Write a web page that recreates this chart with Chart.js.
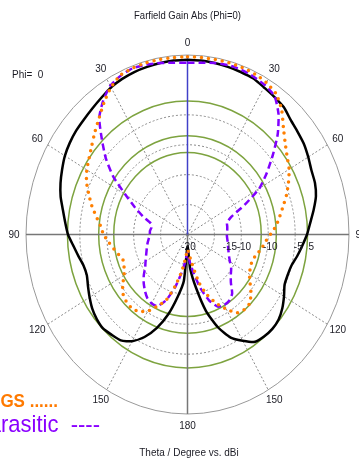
<!DOCTYPE html>
<html>
<head>
<meta charset="utf-8">
<script src="https://cdn.jsdelivr.net/npm/chart.js@4/dist/chart.umd.min.js"></script>
<style>
  html, body { margin: 0; padding: 0; background: #fff; }
  canvas { display: block; }
</style>
</head>
<body>
<canvas id="farfield" width="359" height="462"></canvas>
<script>
// theta in degrees, right half = phi 0, left half = phi 180
const theta = [0,5,10,15,20,25,30,35,40,45,50,55,60,65,70,75,80,85,90,
               95,100,105,110,115,120,125,130,135,140,145,150,155,160,165,170,175,180];

// gain in dBi
const totalRight = [4.2,4.2,4.1,4.0,3.9,3.8,3.4,3.1,2.8,2.1,1.7,1.4,0.9,0.4,0.2,-0.3,-1.2,-2.1,-2.8,
                    -3.6,-4.3,-5.0,-5.2,-5.1,-4.3,-3.5,-2.9,-2.7,-2.8,-3.1,-4.5,-6.0,-8.5,-11.8,-16.0,-19.3,-23.0];
const totalLeft  = [4.2,4.2,4.1,4.0,3.9,3.7,3.4,2.9,2.5,2.2,2.0,1.7,1.3,0.7,0.1,-0.6,-1.5,-2.2,-2.8,
                    -3.7,-4.4,-5.0,-5.1,-4.6,-4.0,-3.4,-3.0,-2.8,-3.1,-3.4,-4.4,-6.1,-8.4,-11.2,-14.4,-17.2,-23.0];
const gsRight    = [4.7,4.7,4.7,4.7,4.7,4.6,4.3,3.7,2.2,0.2,-1.3,-2.4,-3.2,-4.3,-5.4,-6.6,-7.6,-8.5,-9.6,
                    -10.5,-11.1,-11.8,-12.2,-12.1,-11.7,-10.8,-9.6,-8.7,-8.6,-9.0,-10.6,-12.3,-14.2,-16.6,-19.9,-21.7,-22.5];
const gsLeft     = [4.7,4.7,4.7,4.7,4.6,4.4,3.4,2.0,0.5,-0.7,-1.8,-2.7,-3.4,-4.3,-5.5,-6.6,-7.8,-8.8,-9.4,
                    -10.3,-11.1,-11.8,-12.3,-12.0,-11.4,-10.3,-9.4,-9.0,-8.9,-9.3,-10.2,-11.8,-13.3,-16.0,-18.7,-21.1,-22.5];
const parRight   = [3.7,3.8,4.1,4.3,4.3,4.1,3.8,3.2,1.3,-1.3,-4.3,-7.0,-9.6,-13.3,-16.3,-17.4,-17.5,-17.6,-17.7,
                    -17.6,-17.4,-17.2,-16.9,-16.5,-15.9,-15.1,-14.5,-13.6,-12.1,-11.5,-11.4,-11.7,-13.3,-15.7,-18.4,-20.5,-22.0];
const parLeft    = [3.7,3.8,4.1,4.4,4.6,4.3,3.7,2.3,0.5,-2.5,-5.2,-8.2,-11.7,-14.2,-16.2,-18.0,-18.2,-18.0,-18.0,
                    -17.8,-17.5,-17.2,-16.9,-16.5,-16.0,-15.4,-14.4,-13.5,-12.7,-12.0,-11.7,-11.8,-13.3,-15.7,-18.4,-20.5,-22.0];

// radial range (center .. outer circle), grid rings and markers
const rMin = -25, rMax = 5;
const dottedRings = [-20, -15, -10, -5];
const greenRings = [-11.3, -8.5, -2.7];
const spokeAngles = [30, 60, 120, 150];
const angleTicks = [0, 30, 60, 90, 120, 150, 180];
const ringTickLabels = ['-20', '-15', '-10', '-10', '-5', '5'];
const ringTickValues = [-25, -17.3, -14.7, -9.8, -4.6, -2.2];

function norm(db) { return (db - rMin) / (rMax - rMin); }

function cut(right, left) {
  const pts = [];
  theta.forEach((t, i) => {
    const r = norm(right[i]), a = t * Math.PI / 180;
    pts.push({x: r * Math.sin(a), y: r * Math.cos(a)});
  });
  for (let i = theta.length - 2; i >= 0; i--) {
    const r = norm(left[i]), a = theta[i] * Math.PI / 180;
    pts.push({x: -r * Math.sin(a), y: r * Math.cos(a)});
  }
  return pts;
}

// the source picture is stretched vertically, text included
const stretch = 1.115;
function tallText(ctx, txt, x, y) {
  ctx.save();
  ctx.translate(x, y);
  ctx.scale(1, stretch);
  ctx.fillText(txt, 0, 0);
  ctx.restore();
}

const polarGrid = {
  id: 'polarGrid',
  beforeDatasetsDraw(chart) {
    const {ctx} = chart;
    const sx = chart.scales.x, sy = chart.scales.y;
    const cx = sx.getPixelForValue(0), cy = sy.getPixelForValue(0);
    const ring = (v) => [sx.getPixelForValue(norm(v)) - cx, cy - sy.getPixelForValue(norm(v))];
    ctx.save();

    // dotted rings
    ctx.strokeStyle = '#8a8a8a';
    ctx.lineWidth = 1;
    ctx.setLineDash([2, 2]);
    dottedRings.forEach(v => {
      const [rx, ry] = ring(v);
      ctx.beginPath(); ctx.ellipse(cx, cy, rx, ry, 0, 0, Math.PI * 2); ctx.stroke();
    });
    // spokes
    spokeAngles.forEach(t => {
      const a = t * Math.PI / 180;
      [1, -1].forEach(s => {
        ctx.beginPath();
        ctx.moveTo(cx, cy);
        ctx.lineTo(sx.getPixelForValue(s * Math.sin(a)), sy.getPixelForValue(Math.cos(a)));
        ctx.stroke();
      });
    });
    ctx.setLineDash([]);

    // outer circle
    ctx.strokeStyle = '#999';
    ctx.lineWidth = 1;
    ctx.beginPath(); ctx.ellipse(cx, cy, sx.getPixelForValue(1) - cx, cy - sy.getPixelForValue(1), 0, 0, Math.PI * 2); ctx.stroke();

    // green marker rings
    ctx.strokeStyle = '#7da33f';
    ctx.lineWidth = 1.5;
    greenRings.forEach(v => {
      const [rx, ry] = ring(v);
      ctx.beginPath(); ctx.ellipse(cx, cy, rx, ry, 0, 0, Math.PI * 2); ctx.stroke();
    });

    // axes
    ctx.strokeStyle = '#777';
    ctx.lineWidth = 1.5;
    ctx.beginPath();
    ctx.moveTo(sx.getPixelForValue(-1), cy); ctx.lineTo(sx.getPixelForValue(1), cy);
    ctx.moveTo(cx, cy); ctx.lineTo(cx, sy.getPixelForValue(-1));
    ctx.stroke();
    ctx.strokeStyle = '#4040c8';
    ctx.beginPath();
    ctx.moveTo(cx, cy); ctx.lineTo(cx, sy.getPixelForValue(1));
    ctx.stroke();
    ctx.restore();
  },
  afterDraw(chart) {
    const {ctx} = chart;
    const sx = chart.scales.x, sy = chart.scales.y;
    const cx = sx.getPixelForValue(0), cy = sy.getPixelForValue(0);
    ctx.save();
    ctx.fillStyle = '#1b1b24';
    ctx.textAlign = 'center';
    ctx.textBaseline = 'middle';

    ctx.font = '9.5px "Liberation Sans", Arial, sans-serif';
    tallText(ctx, 'Farfield Gain Abs (Phi=0)', cx, 16);

    ctx.font = '10px "Liberation Sans", Arial, sans-serif';
    angleTicks.forEach(t => {
      const a = t * Math.PI / 180;
      [1, -1].forEach(s => {
        if (s < 0 && (t === 0 || t === 180)) return;
        const px = sx.getPixelForValue(s * Math.sin(a)) + s * 12 * Math.sin(a);
        const py = sy.getPixelForValue(Math.cos(a)) - 12 * Math.cos(a);
        tallText(ctx, String(t), px, py);
      });
    });

    ringTickLabels.forEach((lab, i) => {
      tallText(ctx, lab, sx.getPixelForValue(norm(ringTickValues[i])) + 1, cy + 12);
    });

    ctx.textAlign = 'left';
    tallText(ctx, 'Phi=  0', 12, 75);
    ctx.textAlign = 'center';
    tallText(ctx, 'Theta / Degree vs. dBi', 189, 453);

    ctx.textAlign = 'right';
    ctx.textBaseline = 'alphabetic';
    ctx.font = 'bold 17px "Liberation Sans", Arial, sans-serif';
    ctx.fillStyle = '#ff7a00';
    tallText(ctx, 'GS ......', 58, 407);
    ctx.font = '22px "Liberation Sans", Arial, sans-serif';
    ctx.fillStyle = '#8a00ff';
    tallText(ctx, 'Parasitic  ----', 100, 432);
    ctx.restore();
  }
};

const ctx = document.getElementById('farfield').getContext('2d');
const farfieldChart = new Chart(ctx, {
  type: 'scatter',
  data: {
    datasets: [{
      label: 'GS',
      data: cut(gsRight, gsLeft),
      showLine: true,
      borderColor: '#ff7f00',
      borderWidth: 3.5,
      borderDash: [0, 7],
      borderCapStyle: 'round',
      pointRadius: 0,
      tension: 0.2,
      order: 0
    }, {
      label: 'Parasitic',
      data: cut(parRight, parLeft),
      showLine: true,
      borderColor: '#8000ff',
      borderWidth: 2.5,
      borderDash: [7, 4],
      pointRadius: 0,
      tension: 0.2,
      order: 1
    }, {
      label: 'Total',
      data: cut(totalRight, totalLeft),
      showLine: true,
      borderColor: '#000',
      borderWidth: 2.5,
      pointRadius: 0,
      tension: 0.2,
      order: 2
    }]
  },
  options: {
    responsive: false,
    animation: false,
    events: [],
    layout: { padding: { left: 26, right: 10, top: 55, bottom: 48 } },
    plugins: { legend: { display: false }, tooltip: { enabled: false } },
    scales: {
      x: { type: 'linear', min: -1, max: 1, display: false },
      y: { type: 'linear', min: -1, max: 1, display: false }
    }
  },
  plugins: [polarGrid]
});
</script>
</body>
</html>
